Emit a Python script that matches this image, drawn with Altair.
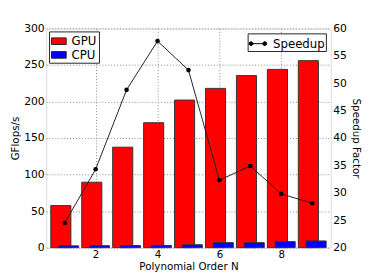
import altair as alt
import pandas as pd

N = [1, 2, 3, 4, 5, 6, 7, 8, 9]
gpu = [57.5, 89.5, 137.5, 171, 202, 218, 235.5, 244, 256]
cpu = [2.4, 2.6, 2.8, 3.0, 3.9, 6.8, 6.8, 8.2, 9.1]
speedup = [24.5, 34.3, 48.8, 57.7, 52.4, 32.3, 34.9, 29.8, 28.1]

devices = ["GPU", "CPU"]
dev_colors = ["#ff0000", "#0000ff"]

bars_df = pd.DataFrame(
    {"N": N * 2, "device": ["GPU"] * len(N) + ["CPU"] * len(N), "value": gpu + cpu}
)
line_df = pd.DataFrame({"N": N, "speedup": speedup, "series": ["Speedup"] * len(N)})

FONT = "DejaVu Sans"
xscale = alt.Scale(domain=[0.4, 9.6], nice=False, zero=False)
xaxis = alt.Axis(
    values=[2, 4, 6, 8], title="Polynomial Order N", grid=True, gridDash=[1, 2],
    gridColor="#888", ticks=False, domain=False, labelPadding=2, titlePadding=2,
    labelFontSize=10.5, titleFontSize=10.5, labelFont=FONT, titleFont=FONT,
    labelColor="black", titleColor="black", titleFontWeight="normal",
)

bars = (
    alt.Chart(bars_df)
    .transform_calculate(
        x1="datum.device == 'GPU' ? datum.N - 0.45 : datum.N - 0.2",
        x2="datum.device == 'GPU' ? datum.N + 0.2 : datum.N + 0.45",
        base="0",
        order="datum.device == 'GPU' ? 0 : 1",
    )
    .mark_bar(stroke="#333", strokeWidth=1)
    .encode(
        x=alt.X("x1:Q", scale=xscale, axis=xaxis),
        x2="x2:Q",
        y=alt.Y(
            "value:Q",
            scale=alt.Scale(domain=[0, 300], nice=False),
            axis=alt.Axis(
                values=[0, 50, 100, 150, 200, 250, 300], title="GFlops/s", grid=True,
                gridDash=[1, 2], gridColor="#888", ticks=False, domain=False,
                labelPadding=2, titlePadding=3, labelFontSize=11, titleFontSize=10.5,
                labelFont=FONT, titleFont=FONT, labelColor="black", titleColor="black",
                titleFontWeight="normal", orient="left",
            ),
        ),
        y2="base:Q",
        color=alt.Color(
            "device:N",
            scale=alt.Scale(domain=devices, range=dev_colors),
            legend=alt.Legend(
                title=None, orient="top-left", offset=3, fillColor="white",
                strokeColor="#222", padding=2, cornerRadius=0, labelFontSize=12,
                labelFont=FONT, labelColor="black", rowPadding=0,
                symbolType="M-1,-0.45H1V0.45H-1Z", symbolSize=225,
                symbolStrokeColor="#222", symbolStrokeWidth=1, labelOffset=5,
            ),
        ),
        order=alt.Order("order:Q"),
    )
)

yright = alt.Y(
    "speedup:Q",
    scale=alt.Scale(domain=[20, 60], nice=False, zero=False),
    axis=alt.Axis(
        values=[20, 25, 30, 35, 40, 45, 50, 55, 60], title="Speedup Factor", grid=False,
        ticks=False, domain=False, labelPadding=2, titlePadding=4, labelFontSize=11,
        titleFontSize=10.5, labelFont=FONT, titleFont=FONT, labelColor="black",
        titleColor="black", titleFontWeight="normal", orient="right",
    ),
)

line = alt.Chart(line_df).mark_line(color="#222", strokeWidth=1).encode(
    x=alt.X("N:Q", scale=xscale, axis=xaxis), y=yright
)
points = alt.Chart(line_df).mark_point(filled=True, size=22, opacity=1).encode(
    x=alt.X("N:Q", scale=xscale, axis=xaxis),
    y=yright,
    color=alt.Color(
        "series:N",
        scale=alt.Scale(domain=["Speedup"], range=["black"]),
        legend=alt.Legend(
            title=None, orient="top-right", offset=5, fillColor="white",
            strokeColor="#222", padding=1, cornerRadius=0, labelFontSize=12,
            labelFont=FONT, labelColor="black",
            symbolType="M-1,0H1M-1,0a0.22,0.22 0 1,0 0.44,0a0.22,0.22 0 1,0 -0.44,0M0.56,0a0.22,0.22 0 1,0 0.44,0a0.22,0.22 0 1,0 -0.44,0",
            symbolSize=324, symbolStrokeColor="black", symbolStrokeWidth=1,
            symbolFillColor="black", labelOffset=6,
        ),
    ),
)

right = alt.layer(line, points)

chart = (
    alt.layer(bars, right)
    .resolve_scale(y="independent", color="independent")
    .resolve_legend(color="independent")
    .properties(
        width=291, height=224,
        autosize=alt.AutoSizeParams(type="none"),
        padding={"left": 39, "top": 18, "right": 36, "bottom": 22},
    )
    .configure_view(stroke="#333", strokeWidth=1)
    .configure(background="white")
)

chart.save("out.html", embed_options={"renderer": "svg", "actions": False})
